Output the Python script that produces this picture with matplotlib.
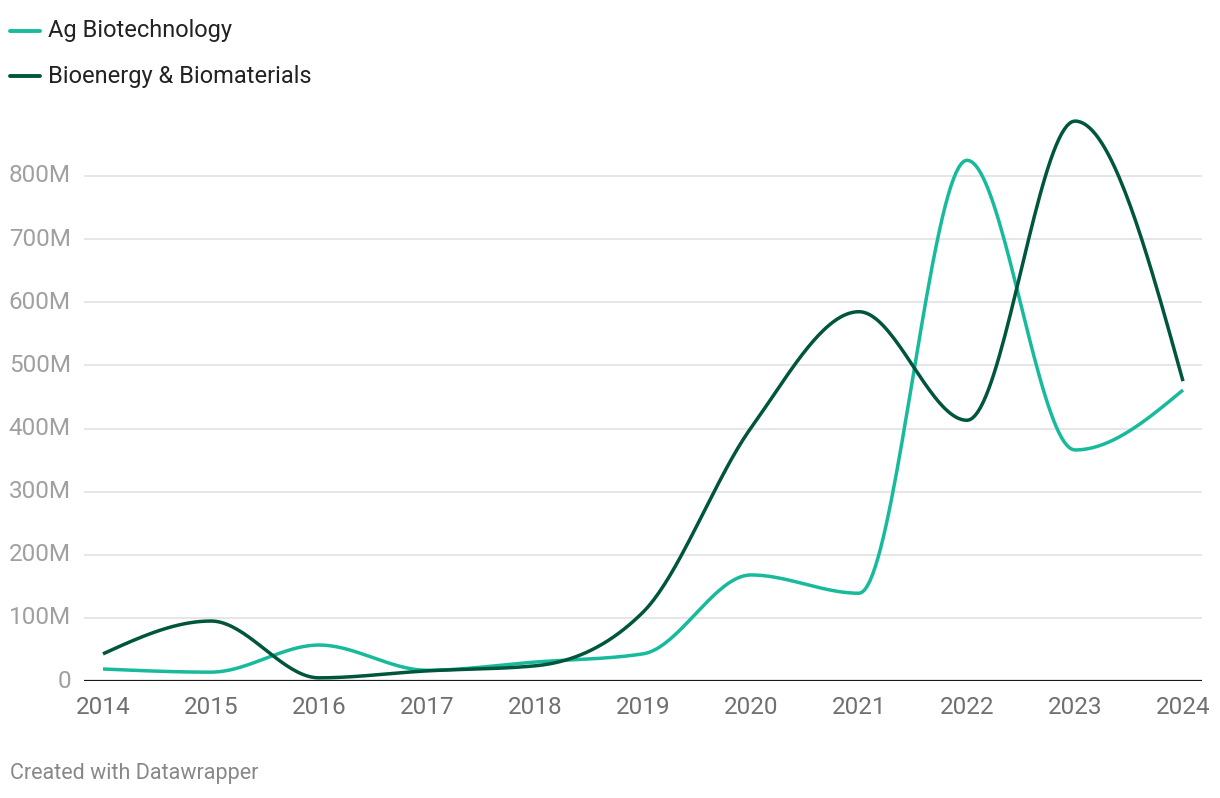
import numpy as np
import matplotlib
matplotlib.use("Agg")
import matplotlib.pyplot as plt
from matplotlib.ticker import FuncFormatter

years = [2014, 2015, 2016, 2017, 2018, 2019, 2020, 2021, 2022, 2023, 2024]
ag_biotech = [19, 14, 57, 17, 30, 43, 168, 139, 825, 366, 461]          # millions
bioenergy = [43, 95, 5, 16, 24, 109, 401, 585, 413, 887, 475]          # millions
series_names = ["Ag Biotechnology", "Bioenergy & Biomaterials"]
colors = ["#17bb9b", "#00563d"]
y_ticks = [0, 100, 200, 300, 400, 500, 600, 700, 800]

plt.rcParams['font.family'] = ['Roboto', 'DejaVu Sans']


def monotone_x(x, y, n=40):
    # d3 curveMonotoneX equivalent
    x = np.asarray(x, float); y = np.asarray(y, float)
    m = len(x)
    h = np.diff(x); s = np.diff(y) / h
    t = np.zeros(m)
    for i in range(1, m - 1):
        h0, h1, s0, s1 = h[i-1], h[i], s[i-1], s[i]
        p = (s0 * h1 + s1 * h0) / (h0 + h1)
        t[i] = (np.sign(s0) + np.sign(s1)) * min(abs(s0), abs(s1), 0.5 * abs(p)) or 0.0
    t[0] = (3 * s[0] - t[1]) / 2
    t[-1] = (3 * s[-1] - t[-2]) / 2
    xs, ys = [], []
    for i in range(m - 1):
        u = np.linspace(0, 1, n, endpoint=(i == m - 2))
        dx = h[i]
        p0 = (x[i], y[i]); p3 = (x[i+1], y[i+1])
        p1 = (x[i] + dx / 3, y[i] + dx * t[i] / 3)
        p2 = (x[i+1] - dx / 3, y[i+1] - dx * t[i+1] / 3)
        b0 = (1-u)**3; b1 = 3*(1-u)**2*u; b2 = 3*(1-u)*u**2; b3 = u**3
        xs.append(b0*p0[0] + b1*p1[0] + b2*p2[0] + b3*p3[0])
        ys.append(b0*p0[1] + b1*p1[1] + b2*p2[1] + b3*p3[1])
    return np.concatenate(xs), np.concatenate(ys)


W, H = 1220, 798
fig = plt.figure(figsize=(W/100, H/100), dpi=100)
left, right, bottom, top = 84, 1202, 681, 100
ax = fig.add_axes([left/W, (H-bottom)/H, (right-left)/W, (bottom-top)/H])

for vals, c in zip([ag_biotech, bioenergy], colors):
    xs, ys = monotone_x(years, vals)
    ax.plot(xs, ys, color=c, lw=2.5, solid_capstyle='butt', zorder=3)

px_per_year = 108.0
ax.set_xlim(years[0] - 19/px_per_year, years[-1] + 19/px_per_year)
ax.set_ylim(0, 800 * (bottom - top) / 505)

ax.set_yticks(y_ticks)
ax.yaxis.set_major_formatter(FuncFormatter(lambda v, p: "0" if v == 0 else f"{int(v)}M"))
ax.set_xticks(years)
ax.set_xticklabels([str(y) for y in years])
ax.tick_params(axis='y', length=0, pad=9.5, labelsize=17.5, labelcolor="#a0a0a0")
ax.tick_params(axis='x', length=0, pad=11, labelsize=17.5, labelcolor="#707070")
for lab in ax.get_yticklabels():
    lab.set_verticalalignment('center')

ax.grid(axis='y', color="#e2e2e2", lw=1.2, zorder=0)
ax.axhline(0, color="#1a1a1a", lw=1.6, zorder=4)
for sp in ax.spines.values():
    sp.set_visible(False)

# legend
for i, (name, c) in enumerate(zip(series_names, colors)):
    yy = 1 - (31 + 45 * i) / H
    fig.add_artist(plt.Line2D([10/W, 40/W], [yy, yy], color=c, lw=2.8, solid_capstyle='round'))
    fig.text(48/W, yy, name, fontsize=17, color="#222222", va='center', ha='left')

fig.text(10/W, 1 - 774/H, "Created with Datawrapper", fontsize=15.5, color="#888888",
         va='center', ha='left')

fig.savefig("out.png", dpi=100)
